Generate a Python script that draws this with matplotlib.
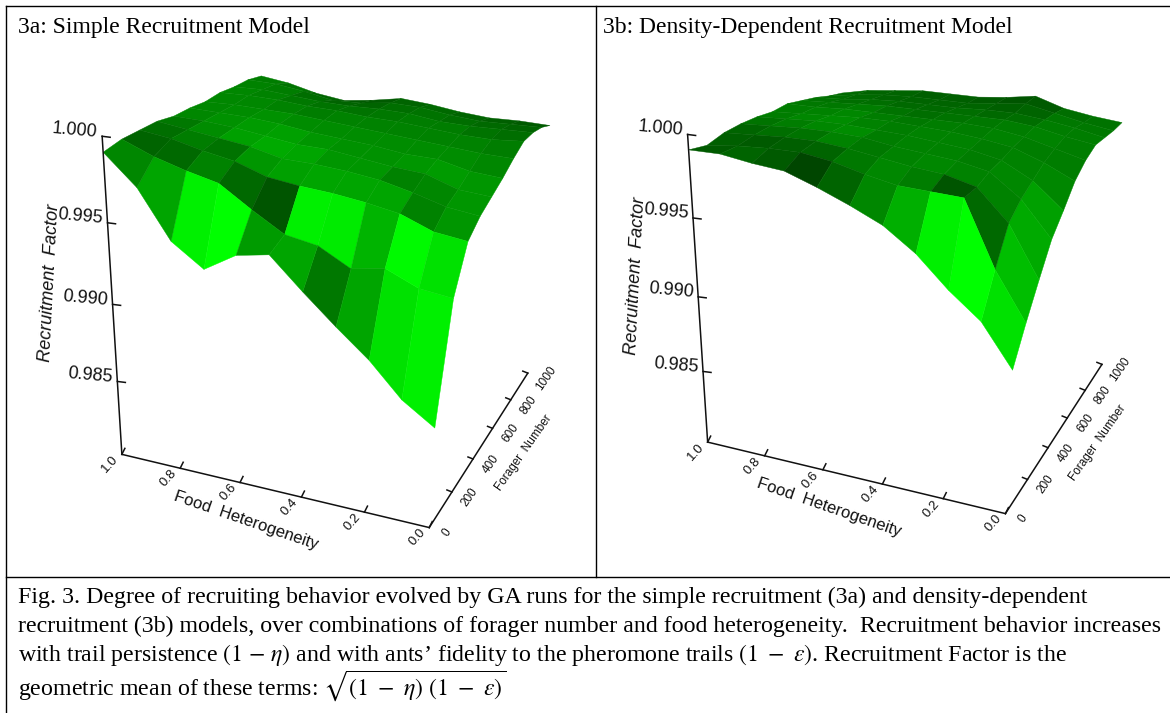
import numpy as np
import matplotlib
matplotlib.use("Agg")
import matplotlib.pyplot as plt
from matplotlib.collections import PolyCollection

plt.rcParams["mathtext.fontset"] = "stix"

# grid of the two surfaces
heterogeneity = [1.0, 0.9, 0.8, 0.7, 0.6, 0.5, 0.4, 0.3, 0.2, 0.1, 0.0]
foragers = [0, 100, 200, 300, 400, 500, 600, 700, 800, 900, 1000]

# Recruitment factor, one row per forager number
simple_rf = [
    [.9991, .9974, .9946, .9933, .9945, .9949, .9931, .9914, .9898, .9878, .9865],
    [.9992, .9985, .9980, .9976, .9964, .9953, .9950, .9940, .9944, .9936, .9934],
    [.9991, .9989, .9985, .9982, .9976, .9974, .9973, .9971, .9968, .9961, .9959],
    [.9990, .9988, .9986, .9984, .9980, .9980, .9979, .9977, .9973, .9968, .9966],
    [.9987, .9987, .9986, .9984, .9982, .9982, .9980, .9978, .9977, .9971, .9970],
    [.9986, .9986, .9986, .9985, .9983, .9982, .9981, .9979, .9979, .9975, .9974],
    [.9984, .9985, .9985, .9985, .9984, .9983, .9982, .9981, .9980, .9979, .9979],
    [.9984, .9985, .9985, .9984, .9984, .9983, .9983, .9982, .9981, .9981, .9983],
    [.9982, .9983, .9982, .9981, .9981, .9982, .9982, .9980, .9980, .9981, .9982],
    [.9981, .9981, .9979, .9976, .9977, .9980, .9980, .9978, .9977, .9978, .9979],
    [.9978, .9976, .9972, .9970, .9973, .9977, .9976, .9974, .9973, .9974, .9974],
]
density_rf = [
    [.9991, .9992, .9990, .9989, .9983, .9976, .9968, .9955, .9937, .9922, .9896],
    [.9987, .9990, .9992, .9993, .9991, .9987, .9984, .9984, .9984, .9945, .9916],
    [.9988, .9990, .9992, .9993, .9992, .9990, .9988, .9987, .9983, .9965, .9934],
    [.9987, .9989, .9991, .9992, .9992, .9990, .9989, .9988, .9985, .9972, .9951],
    [.9985, .9987, .9989, .9990, .9990, .9990, .9989, .9988, .9985, .9976, .9961],
    [.9982, .9984, .9986, .9988, .9989, .9989, .9989, .9988, .9986, .9980, .9972],
    [.9981, .9982, .9984, .9985, .9986, .9987, .9988, .9988, .9986, .9982, .9978],
    [.9977, .9979, .9981, .9983, .9984, .9985, .9986, .9987, .9986, .9983, .9981],
    [.9973, .9975, .9978, .9980, .9981, .9982, .9984, .9985, .9984, .9982, .9979],
    [.9968, .9972, .9975, .9977, .9978, .9979, .9982, .9985, .9982, .9979, .9977],
    [.9964, .9969, .9972, .9975, .9976, .9977, .9980, .9984, .9979, .9977, .9976],
]

# green level of each surface cell as seen in the picture, front row first
simple_green = [
    [135, 165, 240, 255, 155, 165, 120, 165, 225, 240],
    [100, 105, 130, 105, 85, 240, 235, 180, 250, 225],
    [110, 125, 115, 150, 160, 165, 165, 165, 130, 150],
    [120, 140, 160, 170, 165, 150, 150, 130, 135, 150],
    [135, 145, 155, 160, 150, 145, 145, 150, 155, 150],
    [135, 140, 145, 140, 140, 140, 140, 140, 140, 135],
    [135, 135, 130, 125, 130, 130, 130, 130, 130, 125],
    [135, 130, 120, 115, 115, 120, 125, 125, 115, 110],
    [130, 125, 110, 100, 100, 110, 115, 110, 105, 100],
    [125, 115, 100, 90, 90, 100, 105, 100, 95, 90],
]
density_green = [
    [90, 100, 90, 70, 100, 135, 175, 240, 255, 225],
    [95, 90, 95, 100, 120, 135, 125, 85, 105, 190],
    [100, 110, 115, 130, 120, 130, 135, 130, 130, 170],
    [115, 125, 135, 140, 125, 130, 130, 125, 135, 160],
    [125, 135, 140, 130, 125, 130, 130, 125, 130, 135],
    [125, 130, 135, 125, 120, 125, 125, 130, 125, 125],
    [120, 120, 125, 115, 110, 115, 120, 125, 130, 125],
    [115, 110, 110, 105, 105, 110, 105, 110, 125, 125],
    [110, 105, 100, 100, 100, 100, 95, 100, 120, 120],
    [105, 100, 100, 95, 95, 90, 85, 90, 110, 115],
]

het_ticks = [1.0, 0.8, 0.6, 0.4, 0.2, 0.0]
forager_ticks = [0, 200, 400, 600, 800, 1000]
rf_ticks = [1.000, 0.995, 0.990, 0.985]
RF_MIN, RF_MAX = 0.980, 1.000

# where the axis ticks and surface corners sit on the page, used to fit the camera of each panel
CAL_A = {"het": [(122, 455), (180, 468), (240, 483), (302, 497), (367, 513), (430, 527)],
         "for": [(430, 527), (452, 493), (473, 460), (492, 428), (510, 400), (527, 373)],
         "rf": [(102, 138), (107, 223), (112, 303), (117, 380)],
         "corners": [(0.0, 1000, .9974, 551, 125), (0.0, 0, .9865, 432, 427), (1.0, 1000, .9978, 262, 76)]}
CAL_B = {"het": [(707, 443), (765, 456), (822, 469), (883, 485), (945, 498), (1007, 513)],
         "for": [(1007, 513), (1027, 481), (1048, 448), (1067, 418), (1083, 391), (1102, 364)],
         "rf": [(687, 136), (693, 218), (698, 296), (703, 370)],
         "corners": [(0.0, 1000, .9976, 1123, 122), (0.0, 0, .9896, 1010, 370), (1.0, 1000, .9964, 843, 93)]}

TITLE_A = "3a: Simple Recruitment Model"
TITLE_B = "3b: Density-Dependent Recruitment Model"
CAPTION = [
    "Fig. 3. Degree of recruiting behavior evolved by GA runs for the simple recruitment (3a) and density-dependent",
    "recruitment (3b) models, over combinations of forager number and food heterogeneity.  Recruitment behavior increases",
    r"with trail persistence $\left(1\ \mathrm{-}\ \eta\right)$ and with ants’ fidelity to the pheromone trails $(1\ -\ \varepsilon)$. Recruitment Factor is the",
    r"geometric mean of these terms: $\sqrt{(1\ -\ \eta)\ (1\ -\ \varepsilon)}$",
]


def world(h, n, rf):
    h, n, rf = np.asarray(h, float), np.asarray(n, float), np.asarray(rf, float)
    return 1 - h, n / 1000.0, (rf - RF_MIN) / (RF_MAX - RF_MIN)


def fit_camera(cal):
    """Fit a 3x4 projection from the tick positions of the three axes."""
    pts = []
    for h, xy in zip(het_ticks, cal["het"]):
        pts.append((*world(h, 0, RF_MIN), *xy))
    for n, xy in zip(forager_ticks, cal["for"]):
        pts.append((*world(0.0, n, RF_MIN), *xy))
    for r, xy in zip(rf_ticks, cal["rf"]):
        pts.append((*world(1.0, 0, r), *xy))
    for h, n, r, u, v in cal["corners"]:
        pts.append((*world(h, n, r), u, v))
    rows, rhs = [], []
    for X, Y, Z, u, v in pts:
        rows.append([X, Y, Z, 1, 0, 0, 0, 0, -u * X, -u * Y, -u * Z])
        rhs.append(u)
        rows.append([0, 0, 0, 0, X, Y, Z, 1, -v * X, -v * Y, -v * Z])
        rhs.append(v)
    p = np.linalg.lstsq(np.array(rows, float), np.array(rhs, float), rcond=None)[0]
    return np.append(p, 1.0).reshape(3, 4)


def project(cam, h, n, rf):
    X, Y, Z = world(h, n, rf)
    hom = cam @ np.stack([X, Y, Z, np.ones_like(X)])
    return hom[0] / hom[2], hom[1] / hom[2], hom[2]


def draw_surface(ax, cam, rf, green):
    rf = np.array(rf)
    hh, nn = np.meshgrid(heterogeneity, foragers)
    px, py, depth = project(cam, hh.ravel(), nn.ravel(), rf.ravel())
    px, py, depth = px.reshape(rf.shape), py.reshape(rf.shape), depth.reshape(rf.shape)
    polys, colors, order = [], [], []
    for j in range(rf.shape[0] - 1):
        for i in range(rf.shape[1] - 1):
            polys.append([(px[j, i], py[j, i]), (px[j, i + 1], py[j, i + 1]),
                          (px[j + 1, i + 1], py[j + 1, i + 1]), (px[j + 1, i], py[j + 1, i])])
            colors.append((0, green[j][i] / 255, 0))
            order.append(depth[j:j + 2, i:i + 2].mean())
    idx = np.argsort(order)[::-1]
    colors = [colors[k] for k in idx]
    ax.add_collection(PolyCollection([polys[k] for k in idx], facecolors=colors,
                                     edgecolors=colors, linewidths=0.3, zorder=2))


def draw_axes(ax, cam):
    line = dict(color="#111111", lw=1.1, zorder=3)
    lab = dict(family="Liberation Sans", ha="center", va="center", color="#111111")

    x, y, _ = project(cam, np.array([1.0, 0.0]), np.zeros(2), np.full(2, RF_MIN))
    ax.plot(x, y, **line)
    x, y, _ = project(cam, np.zeros(2), np.array([0, 1000.0]), np.full(2, RF_MIN))
    ax.plot(x, y, **line)
    x, y, _ = project(cam, np.ones(2), np.zeros(2), np.array([RF_MIN, RF_MAX]))
    ax.plot(x, y, **line)

    for h in het_ticks:
        x, y, _ = project(cam, np.array([h]), np.zeros(1), np.full(1, RF_MIN))
        ax.plot([x[0], x[0] + 3], [y[0], y[0] - 6], **line)
        ax.text(x[0] - 12, y[0] + 10, f"{h:.1f}", rotation=48, fontsize=9.5, **lab)
    for n in forager_ticks:
        x, y, _ = project(cam, np.zeros(1), np.array([n]), np.full(1, RF_MIN))
        if n:
            ax.plot([x[0], x[0] - 5], [y[0], y[0] - 2], **line)
        ax.text(x[0] + 18, y[0] + 5, str(n), rotation=55, fontsize=8.5, **lab)
    for r in rf_ticks:
        x, y, _ = project(cam, np.ones(1), np.zeros(1), np.array([r]))
        ax.plot([x[0], x[0] + 8], [y[0], y[0] + 1], **line)
        ax.text(x[0] - 4, y[0] - 6, f"{r:.3f}", rotation=-5, ha="right", va="center",
                family="Liberation Sans", fontsize=13, color="#111111")

    x, y, _ = project(cam, np.ones(1), np.zeros(1), np.array([0.9915]))
    ax.text(x[0] - 61, y[0] + 2, "Recruitment  Factor", rotation=87, ha="center", va="center",
            family="Liberation Sans", style="italic", fontsize=13, color="#111111")
    x, y, _ = project(cam, np.array([0.55]), np.zeros(1), np.full(1, RF_MIN))
    ax.text(x[0] - 9, y[0] + 34, "Food  Heterogeneity", rotation=-19, fontsize=12, **lab)
    x, y, _ = project(cam, np.zeros(1), np.array([600.0]), np.full(1, RF_MIN))
    ax.text(x[0] + 31, y[0] + 25, "Forager  Number", rotation=55, fontsize=8.5, **lab)


def main():
    fig = plt.figure(figsize=(11.7, 7.13), dpi=100)
    ax = fig.add_axes([0, 0, 1, 1])
    ax.set_xlim(0, 1170)
    ax.set_ylim(713, 0)
    ax.axis("off")

    cam_a, cam_b = fit_camera(CAL_A), fit_camera(CAL_B)
    draw_surface(ax, cam_a, simple_rf, simple_green)
    draw_surface(ax, cam_b, density_rf, density_green)
    draw_axes(ax, cam_a)
    draw_axes(ax, cam_b)

    # table rules around the panels and the caption
    rule = dict(color="black", lw=1.0, zorder=4)
    ax.plot([6, 1170], [5.5, 5.5], **rule)
    ax.plot([6, 6], [5.5, 713], **rule)
    ax.plot([595.5, 595.5], [5.5, 577], **rule)
    ax.plot([6, 1170], [576.5, 576.5], **rule)

    serif = dict(family="Liberation Serif", va="center", color="black")
    ax.text(18, 27, TITLE_A, fontsize=17, **serif)
    ax.text(603, 27, TITLE_B, fontsize=17, **serif)
    for line, y in zip(CAPTION, [597, 626, 655, 686]):
        ax.text(18, y, line, fontsize=17.2, **serif)

    fig.savefig("out.png", dpi=100)
    plt.close(fig)


if __name__ == "__main__":
    main()
